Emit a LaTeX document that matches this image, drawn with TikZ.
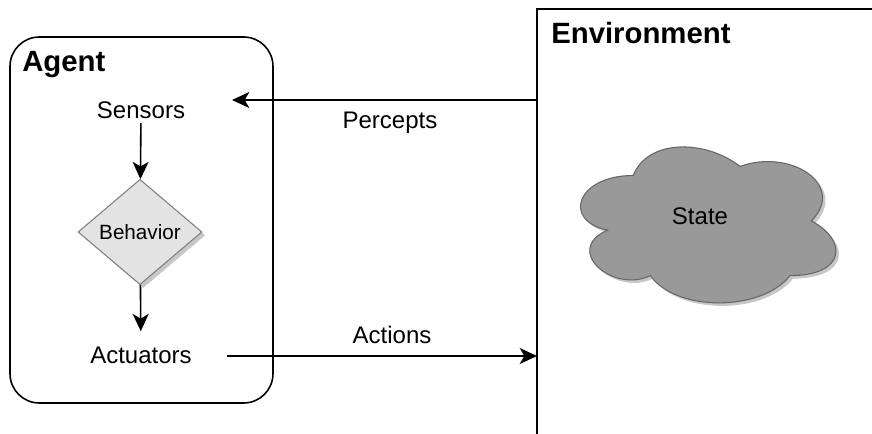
\documentclass[tikz,border=0pt]{standalone}
\usepackage{fontspec}
\setmainfont{Liberation Sans}
\usetikzlibrary{arrows.meta,shapes.geometric,shadows}

% outline of the state cloud, in fractions of its box
\newcommand\statecloud{(0.25,0.25) .. controls (0.05,0.25) and (0,0.5) .. (0.16,0.55)
    .. controls (0,0.66) and (0.18,0.9) .. (0.31,0.8)
    .. controls (0.4,1) and (0.7,1) .. (0.8,0.8)
    .. controls (1,0.8) and (1,0.6) .. (0.875,0.5)
    .. controls (1,0.3) and (0.8,0.1) .. (0.625,0.2)
    .. controls (0.5,0.05) and (0.3,0.05) .. (0.25,0.25) -- cycle}

\begin{document}
\begin{tikzpicture}[x=0.75pt,y=-0.75pt,
        lbl/.style={font=\fontsize{18}{20}\selectfont},
        ttl/.style={font=\fontsize{22}{24}\selectfont\bfseries,anchor=base west,inner sep=0pt},
        flow/.style={line width=1.2pt,-{Stealth[length=13pt,width=12pt,inset=3.5pt]}},
        frame/.style={line width=1.2pt}]
    \useasboundingbox (0,0) rectangle (872,434);
    % agent and environment boxes
    \draw[frame,rounded corners=22pt] (10,37) rectangle (273,403);
    \draw[frame] (537,450) -- (537,9) -- (890,9);
    \node[ttl] (agt) at (22,72) {Agent};
    \node[ttl] (env) at (551,44) {Environment};
    % inside the agent
    \node[lbl] (sens) at (141,110) {Sensors};
    \node[lbl] (act) at (141,355) {Actuators};
    \node[diamond,draw=black!50,fill=black!11,line width=0.8pt,
          minimum width=93pt,minimum height=79pt,inner sep=0pt,
          drop shadow={shadow xshift=2.5pt,shadow yshift=-2.5pt,fill=black!22,opacity=1},
          font=\fontsize{15.5}{17}\selectfont] (beh) at (140,232) {Behavior};
    \draw[flow] (sens) -- (beh);
    \draw[flow,shorten >=8pt] (beh) -- (act);
    % state of the world
    \begin{scope}[shift={(565,133)},x=213.75pt,y=-136.5pt]
        \fill[black!22] \statecloud;
    \end{scope}
    \begin{scope}[shift={(562,130)},x=213.75pt,y=-136.5pt]
        \draw[draw=black!60,fill=black!40,line width=0.8pt] \statecloud;
    \end{scope}
    \node[lbl] (st) at (700,216) {State};
    % percepts and actions
    \coordinate (pout) at (537,100);
    \coordinate (pin) at (232,100);
    \coordinate (aout) at (227,356);
    \coordinate (ain) at (537,356);
    \draw[flow] (pout) -- (pin);
    \draw[flow] (aout) -- (ain);
    \node[lbl] (perc) at (390,123) {Percepts};
    \node[lbl] (acts) at (392,335) {Actions};
\end{tikzpicture}
\end{document}
